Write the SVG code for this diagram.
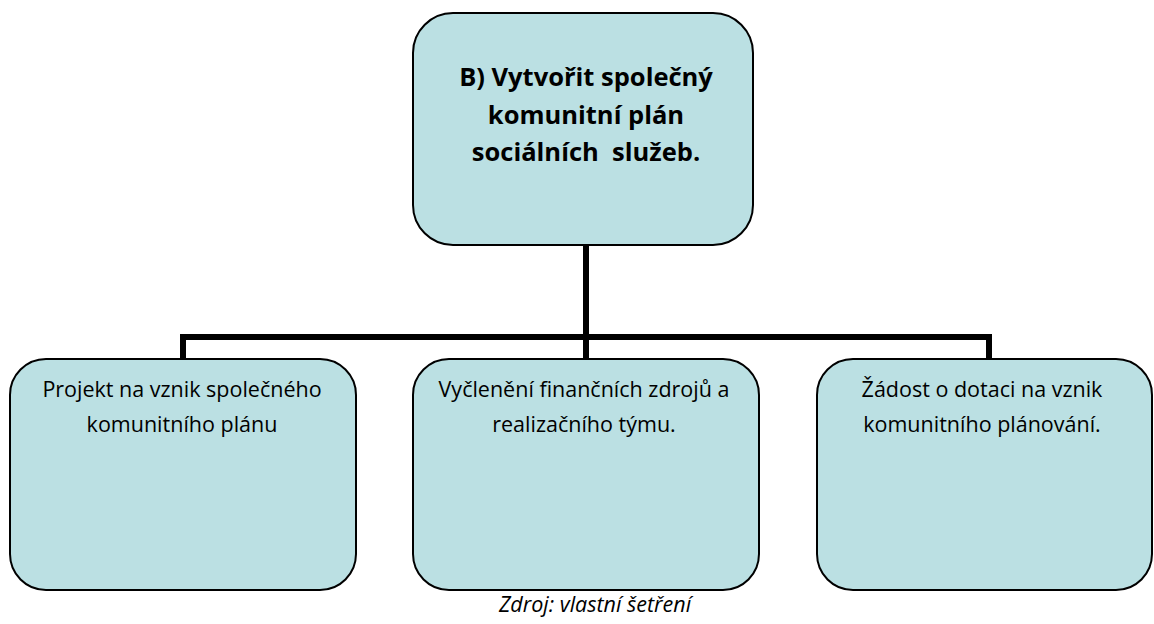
<svg xmlns="http://www.w3.org/2000/svg" width="1154" height="624" viewBox="0 0 1154 624">
<style>
.box{fill:#BBE0E3;stroke:#000;stroke-width:2}
.conn{fill:none;stroke:#000;stroke-width:6}
.t{font-family:"Open Sans","Liberation Sans",sans-serif;font-size:21.5px;fill:#000;text-anchor:middle}
.tb{font-family:"Open Sans","Liberation Sans",sans-serif;font-size:25.5px;font-weight:bold;fill:#000;text-anchor:middle}
.cap{font-family:"Open Sans","Liberation Sans",sans-serif;font-size:21.5px;font-style:italic;fill:#000;text-anchor:middle}
</style>
<rect width="1154" height="624" fill="#fff"/>
<g id="connectors">
<path class="conn" d="M586 245 V337 M183 359 V337 H989 V359 M586 337 V359"/>
</g>
<g id="top">
<rect class="box" x="413" y="13" width="340" height="232" rx="40" ry="40"/>
<text class="tb" x="586" y="86">B) Vytvořit společný</text>
<text class="tb" x="586" y="124">komunitní plán</text>
<text class="tb" x="586" y="161" xml:space="preserve">sociálních  služeb.</text>
</g>
<g id="left">
<rect class="box" x="10" y="359" width="346" height="231" rx="36" ry="36"/>
<text class="t" x="182" y="397">Projekt na vznik společného</text>
<text class="t" x="182" y="432">komunitního plánu</text>
</g>
<g id="middle">
<rect class="box" x="413" y="359" width="346" height="231" rx="36" ry="36"/>
<text class="t" x="584" y="397">Vyčlenění finančních zdrojů a</text>
<text class="t" x="584" y="432">realizačního týmu.</text>
</g>
<g id="right">
<rect class="box" x="817" y="359" width="335" height="231" rx="36" ry="36"/>
<text class="t" x="982" y="397">Žádost o dotaci na vznik</text>
<text class="t" x="982" y="432">komunitního plánování.</text>
</g>
<text class="cap" x="595" y="612">Zdroj: vlastní šetření</text>
</svg>
